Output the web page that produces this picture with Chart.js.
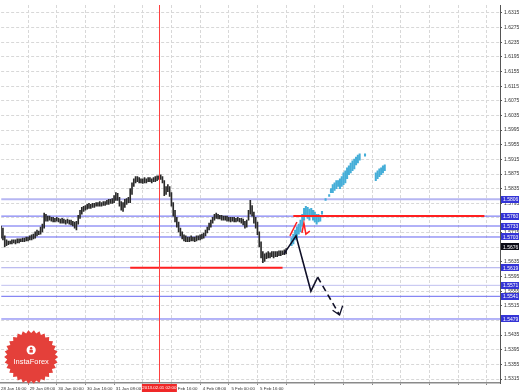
<!DOCTYPE html>
<html><head><meta charset="utf-8">
<script src="https://cdn.jsdelivr.net/npm/chart.js@4.4.1/dist/chart.umd.min.js"></script>
<style>html,body{margin:0;padding:0;background:#fff;overflow:hidden}canvas{display:block}</style>
</head><body>
<canvas id="c" width="519" height="392"></canvas>
<script>
// ---- hourly bars (high / low), bar index 0 = 28 Jan ~09:00 ----
const barHigh = [
1.5733,1.5727,1.5706,1.5695,1.5692,1.5692,1.5695,1.5695,1.5695,1.5698,
1.5698,1.5698,1.5700,1.5700,1.5703,1.5703,1.5706,1.5709,1.5711,1.5717,
1.5722,1.5719,1.5730,1.5738,1.5768,1.5765,1.5760,1.5760,1.5757,1.5757,
1.5754,1.5757,1.5754,1.5752,1.5754,1.5752,1.5749,1.5752,1.5749,1.5749,
1.5746,1.5744,1.5746,1.5762,1.5776,1.5784,1.5787,1.5789,1.5792,1.5795,
1.5792,1.5795,1.5795,1.5797,1.5797,1.5800,1.5797,1.5800,1.5800,1.5803,
1.5806,1.5806,1.5808,1.5816,1.5824,1.5822,1.5811,1.5800,1.5797,1.5806,
1.5808,1.5811,1.5835,1.5851,1.5862,1.5868,1.5868,1.5865,1.5862,1.5862,
1.5865,1.5862,1.5865,1.5865,1.5862,1.5865,1.5868,1.5870,1.5870,1.5873,
1.5868,1.5857,1.5841,1.5846,1.5841,1.5824,1.5797,1.5776,1.5757,1.5744,
1.5727,1.5717,1.5709,1.5706,1.5703,1.5703,1.5706,1.5703,1.5703,1.5706,
1.5706,1.5709,1.5711,1.5714,1.5722,1.5730,1.5741,1.5749,1.5757,1.5765,
1.5768,1.5765,1.5762,1.5762,1.5760,1.5760,1.5760,1.5757,1.5757,1.5757,
1.5757,1.5754,1.5757,1.5754,1.5754,1.5752,1.5746,1.5749,1.5776,1.5803,
1.5789,1.5771,1.5757,1.5744,1.5717,1.5690,1.5663,1.5657,1.5660,1.5663,
1.5660,1.5663,1.5663,1.5663,1.5663,1.5665,1.5665,1.5665,1.5668,1.5671];
const barLow = [
1.5700,1.5695,1.5676,1.5679,1.5682,1.5684,1.5684,1.5687,1.5684,1.5687,
1.5687,1.5690,1.5690,1.5690,1.5692,1.5692,1.5695,1.5695,1.5698,1.5700,
1.5706,1.5709,1.5711,1.5717,1.5727,1.5746,1.5746,1.5749,1.5746,1.5744,
1.5744,1.5746,1.5744,1.5741,1.5741,1.5741,1.5738,1.5741,1.5738,1.5736,
1.5733,1.5727,1.5722,1.5738,1.5754,1.5765,1.5773,1.5776,1.5779,1.5781,
1.5781,1.5784,1.5784,1.5787,1.5787,1.5787,1.5787,1.5789,1.5789,1.5792,
1.5792,1.5795,1.5795,1.5797,1.5803,1.5803,1.5787,1.5776,1.5773,1.5784,
1.5792,1.5797,1.5797,1.5819,1.5841,1.5851,1.5854,1.5851,1.5851,1.5849,
1.5851,1.5851,1.5854,1.5854,1.5851,1.5854,1.5854,1.5857,1.5860,1.5860,
1.5851,1.5816,1.5819,1.5827,1.5814,1.5787,1.5760,1.5744,1.5730,1.5717,
1.5706,1.5698,1.5692,1.5690,1.5690,1.5690,1.5692,1.5692,1.5690,1.5692,
1.5695,1.5695,1.5698,1.5700,1.5706,1.5714,1.5722,1.5730,1.5741,1.5749,
1.5754,1.5752,1.5752,1.5749,1.5749,1.5749,1.5746,1.5746,1.5744,1.5746,
1.5744,1.5744,1.5746,1.5744,1.5741,1.5736,1.5727,1.5730,1.5749,1.5765,
1.5760,1.5741,1.5727,1.5709,1.5676,1.5646,1.5633,1.5636,1.5644,1.5646,
1.5646,1.5649,1.5646,1.5649,1.5649,1.5652,1.5652,1.5655,1.5655,1.5657];

// ---- projected (cyan) pattern, starting at bar 162 ----
const cyanStart = 162;
const cyanHigh = [
1.5700,1.5711,1.5722,1.5730,1.5738,1.5749,1.5765,1.5781,1.5787,1.5784,
1.5779,1.5781,1.5776,1.5771,1.5765,1.5765,1.5762,1.5773,null,1.5808,
null,1.5819,1.5835,1.5846,1.5851,1.5857,1.5857,1.5862,1.5868,1.5878,
1.5884,1.5892,1.5897,1.5905,1.5911,1.5916,1.5921,1.5927,1.5930,null,
null,1.5930,null,null,null,null,null,1.5878,1.5884,1.5889,
1.5892,1.5897,1.5900];
const cyanLow = [
1.5679,1.5684,1.5695,1.5700,1.5711,1.5717,1.5733,1.5749,1.5760,1.5754,
1.5749,1.5760,1.5749,1.5744,1.5738,1.5744,1.5746,1.5765,null,1.5803,
null,1.5814,1.5824,1.5824,1.5830,1.5835,1.5841,1.5835,1.5841,1.5846,
1.5851,1.5862,1.5873,1.5878,1.5884,1.5889,1.5900,1.5905,1.5913,null,
null,1.5924,null,null,null,null,null,1.5857,1.5862,1.5868,
1.5873,1.5878,1.5884];

// ---- axes ----
const yTickLabels = ['1.5315','1.5355','1.5395','1.5435','1.5475','1.5515','1.5555','1.5595','1.5635','1.5675','1.5715','1.5755','1.5795','1.5835','1.5875','1.5915','1.5955','1.5995','1.6035','1.6075','1.6115','1.6155','1.6195','1.6235','1.6275','1.6315'];
const xGridBars = [7,23,39,55,71,87,103,119,135,151,167,183,199,215,231,247,263];
const xTickLabels = ['28 Jan 16:00','29 Jan 08:00','30 Jan 00:00','30 Jan 16:00','31 Jan 08:00','1 Feb 00:00','1 Feb 16:00','4 Feb 08:00','5 Feb 00:00','5 Feb 16:00'];

// ---- horizontal levels ----
const levelValues = [1.5806,1.5760,1.5733,1.5703,1.5619,1.5571,1.5541,1.5479];
const levelColors = ['#b6b6f2','#6464f0','#6464f0','#6464f0','#a8a8ec','#c0c0f0','#6a6af0','#6a6af0'];
const currentPrice = 1.5676;

// ---- red segments ----
const redLevelValues = [1.5760,1.5619];
const redLevelFrom = [163,72];
const redLevelTo = [269.6,157];
const redZig1Bars = [161.1,165.0];
const redZig1Prices = [1.5706,1.5744];
const redZig2Bars = [167.8,168.9,170.0,172.2];
const redZig2Prices = [1.5714,1.5741,1.5711,1.5719];

// ---- black forecast path ----
const forecastBars = [157.8,164.5,172.8,176.6];
const forecastPrices = [1.5657,1.5706,1.5555,1.5593];
const forecastDashBars = [176.6,188.8];
const forecastDashPrices = [1.5593,1.5490];
const arrowBars = [184.9,188.8,190.5];
const arrowPrices = [1.5503,1.5490,1.5515];

const cursorBar = 88;
const cursorLabel = '2013.02.01 02:00';

// ---- build datasets ----
const X_MIN = 0, X_MAX = 278.3, Y_MIN = 1.53042, Y_MAX = 1.63366;
const FONT = '"Liberation Sans", Arial, sans-serif';

const datasets = [];
levelValues.forEach((v,i)=>{
  datasets.push({type:'line', data:[{x:X_MIN,y:v},{x:X_MAX,y:v}], borderColor:levelColors[i],
    borderWidth: i===0?2:1, pointRadius:0, order:30});
});
datasets.push({type:'bar', data: barHigh.map((h,i)=>({x:i, y:[barLow[i],h]})),
  backgroundColor:'#2a2a2a', barThickness:1.0, grouped:false, order:10});
const cyanData = [];
cyanHigh.forEach((h,i)=>{ if(h!==null) cyanData.push({x:cyanStart+i, y:[cyanLow[i],h]}); });
datasets.push({type:'bar', data:cyanData, backgroundColor:'#45aed8', barThickness:1.4, grouped:false, order:9});
redLevelValues.forEach((v,i)=>{
  datasets.push({type:'line', data:[{x:redLevelFrom[i],y:v},{x:redLevelTo[i],y:v}], borderColor:'#ff2020',
    borderWidth:2, pointRadius:0, order:3});
});
datasets.push({type:'line', data:redZig1Bars.map((b,i)=>({x:b,y:redZig1Prices[i]})), borderColor:'#ff2020', borderWidth:1.5, pointRadius:0, order:2});
datasets.push({type:'line', data:redZig2Bars.map((b,i)=>({x:b,y:redZig2Prices[i]})), borderColor:'#ff2020', borderWidth:1.5, pointRadius:0, order:2});
datasets.push({type:'line', data:forecastBars.map((b,i)=>({x:b,y:forecastPrices[i]})), borderColor:'#101028', borderWidth:1.6, pointRadius:0, order:1});
datasets.push({type:'line', data:forecastDashBars.map((b,i)=>({x:b,y:forecastDashPrices[i]})), borderColor:'#101028', borderWidth:1.6, borderDash:[6,4], pointRadius:0, order:1});
datasets.push({type:'line', data:arrowBars.map((b,i)=>({x:b,y:arrowPrices[i]})), borderColor:'#101028', borderWidth:1.3, pointRadius:0, order:1});

function labelBox(ctx, x, yc, w, h, fill, text){
  ctx.fillStyle = fill;
  ctx.fillRect(x, Math.round(yc - h/2), w, h);
  ctx.fillStyle = '#ffffff';
  ctx.textAlign = 'left'; ctx.textBaseline = 'middle';
  ctx.fillText(text, x + 2, yc + 0.5);
}

const overlay = {
  id:'overlay',
  afterDatasetsDraw(chart){
    const {ctx, chartArea:a, scales:{x}} = chart;
    const px = Math.round(x.getPixelForValue(cursorBar)) + 0.5;
    ctx.save(); ctx.strokeStyle = '#ff4040'; ctx.lineWidth = 1;
    ctx.beginPath(); ctx.moveTo(px, a.top); ctx.lineTo(px, a.bottom); ctx.stroke();
    ctx.restore();
  },
  afterDraw(chart){
    const {ctx, chartArea:a, scales:{x,y}} = chart;
    ctx.save();
    // price boxes on right axis
    ctx.font = '5px ' + FONT;
    levelValues.forEach(v => labelBox(ctx, a.right + 1, y.getPixelForValue(v), 18, 7, '#3434d6', v.toFixed(4)));
    labelBox(ctx, a.right + 1, y.getPixelForValue(currentPrice), 18, 7, '#0a0a14', currentPrice.toFixed(4));
    // cursor time box
    const cx = x.getPixelForValue(cursorBar);
    ctx.font = '4.4px ' + FONT;
    ctx.fillStyle = '#f02828';
    ctx.fillRect(cx - 17, a.bottom + 1, 35, 8);
    ctx.fillStyle = '#ffffff'; ctx.textAlign = 'center'; ctx.textBaseline = 'middle';
    ctx.fillText(cursorLabel, cx + 0.5, a.bottom + 5);
    // InstaForex logo
    const lx = a.left + 30, ly = a.bottom - 26, n = 30, R = 27, r = 24;
    ctx.beginPath();
    for (let i = 0; i < 2*n; i++) {
      const ang = i * Math.PI / n, rad = (i % 2) ? r : R;
      ctx.lineTo(lx + rad*Math.cos(ang), ly + rad*Math.sin(ang));
    }
    ctx.closePath(); ctx.fillStyle = '#e4403a'; ctx.fill();
    ctx.beginPath(); ctx.arc(lx, ly - 7, 4.6, 0, Math.PI*2); ctx.fillStyle = '#ffffff'; ctx.fill();
    ctx.beginPath(); ctx.arc(lx, ly - 8.8, 1.2, 0, Math.PI*2); ctx.fillStyle = '#e4403a'; ctx.fill();
    ctx.fillRect(lx - 1.7, ly - 7.2, 3.4, 2.8);
    ctx.fillStyle = '#ffffff'; ctx.font = '7.5px ' + FONT; ctx.textAlign = 'center'; ctx.textBaseline = 'middle';
    ctx.fillText('InstaForex', lx, ly + 5);
    ctx.restore();
  }
};

new Chart(document.getElementById('c'), {
  type:'bar',
  data:{datasets},
  options:{
    responsive:false, animation:false, devicePixelRatio:1,
    layout:{padding:0},
    plugins:{legend:{display:false}, tooltip:{enabled:false}},
    scales:{
      x:{type:'linear', min:X_MIN, max:X_MAX, offset:false,
        afterBuildTicks:s=>{ s.ticks = xGridBars.map(v=>({value:v})); },
        afterFit:s=>{ s.height = 9; },
        ticks:{autoSkip:false, maxRotation:0, minRotation:0, padding:1, color:'#333',
          font:{size:4.4, family:FONT}, callback:(v,i)=>xTickLabels[i]||''},
        grid:{color:'#d8d8d8', tickLength:2, tickColor:'#888'},
        border:{display:true, color:'#8a8a8a', width:1.5, dash:[3,2]}
      },
      y:{type:'linear', position:'right', min:Y_MIN, max:Y_MAX,
        afterBuildTicks:s=>{ s.ticks = yTickLabels.map(t=>({value:parseFloat(t)})); },
        afterFit:s=>{ s.width = 19; },
        ticks:{padding:2, color:'#333', font:{size:5, family:FONT}, callback:(v,i)=>yTickLabels[i]},
        grid:{color:'#d8d8d8', tickLength:2, tickColor:'#555'},
        border:{display:true, color:'#555', width:1, dash:[3,2]}
      }
    }
  },
  plugins:[overlay]
});
</script>
</body></html>
